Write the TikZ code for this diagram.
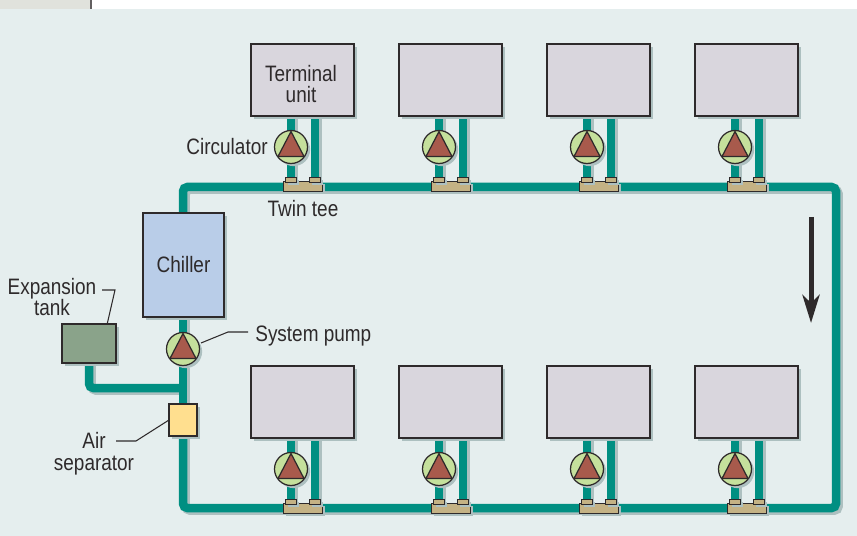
\documentclass[tikz,border=0pt]{standalone}
\usepackage{fontspec}
\setmainfont[FakeStretch=0.85]{Liberation Sans}
\usetikzlibrary{arrows.meta,backgrounds,calc,shadows}
\definecolor{panelc}{HTML}{E5EEEE}
\definecolor{tabc}{HTML}{E0E2DC}
\definecolor{shadowc}{HTML}{ADC0C0}
\definecolor{pipec}{HTML}{008F82}
\definecolor{unitc}{HTML}{D9D6DD}
\definecolor{chillerc}{HTML}{B9CDE8}
\definecolor{tankc}{HTML}{8AA38A}
\definecolor{airc}{HTML}{FFDF8F}
\definecolor{pumpc}{HTML}{C5E09C}
\definecolor{triac}{HTML}{A85A4C}
\definecolor{teec}{HTML}{C4B284}
\definecolor{inkc}{HTML}{2E2A2B}
\tikzset{
  box/.style={draw=inkc,line width=0.7pt,inner sep=0pt,outer sep=0pt,rectangle,
    drop shadow={shadow xshift=1.5pt,shadow yshift=-1.5pt,fill=shadowc,opacity=1}},
  unit/.style={box,fill=unitc,minimum width=103*0.02cm,minimum height=72*0.02cm},
  pump/.style={box,circle,fill=pumpc,minimum size=33*0.02cm},
  pumptri/.style={draw=inkc,line width=0.7pt,fill=triac,line join=round},
  tee/.style={box,fill=teec,minimum width=39*0.02cm,minimum height=9.5*0.02cm},
  teecap/.style={box,line width=0.5pt,fill=teec,minimum width=11.5*0.02cm,minimum height=5*0.02cm},
  pipe/.style={line width=8.5*0.02cm,rounded corners=2.5pt},
  leader/.style={draw=inkc,line width=0.6pt},
  lbl/.style={inner sep=0pt,text=inkc,align=center,font=\fontsize{12.7}{12.3}\selectfont},
}
\begin{document}
\begin{tikzpicture}[x=0.02cm,y=-0.02cm]
    \useasboundingbox (0,0) rectangle (857,536);

    % Chiller side
    \node[box,fill=chillerc,minimum width=81*0.02cm,minimum height=104*0.02cm] (chiller) at (183.5,265) {};
    \node[box,fill=tankc,minimum width=54*0.02cm,minimum height=39*0.02cm] (tank) at (89,343.5) {};
    \node[box,fill=airc,minimum width=28*0.02cm,minimum height=32*0.02cm] (airsep) at (183,420) {};
    \node[pump] (syspump) at (183,349) {};
    \draw[pumptri] ($(syspump)+(0,-15.5)$) -- ($(syspump)+(13,9.5)$) -- ($(syspump)+(-13,9.5)$) -- cycle;

    % Terminal units, circulators and twin tees
    \foreach \r/\y in {t/80,b/402} {
        \foreach \i/\x in {1/302.5,2/450.5,3/598.5,4/746.5} {
            \node[unit] (unit\r\i) at (\x,\y) {};
            \node[pump] (pump\r\i) at (\x-11.5,\y+67) {};
            \draw[pumptri] ($(pump\r\i)+(0,-15.5)$) -- ($(pump\r\i)+(13,9.5)$) -- ($(pump\r\i)+(-13,9.5)$) -- cycle;
            \node[tee] (tee\r\i) at (\x+0.5,\y+106.5) {};
            \node[teecap] (capa\r\i) at (\x-11.5,\y+99.5) {};
            \node[teecap] (capb\r\i) at (\x+12.5,\y+99.5) {};
        }
    }

    % Piping, the shadow pass first
    \coordinate (cornerne) at (836,187);
    \coordinate (cornerse) at (836,508);
    \coordinate (cornersw) at (183,508);
    \coordinate (cornernw) at (183,187);
    \coordinate (junction) at (183,388);
    \begin{scope}[on background layer]
        \fill[white] (0,0) rectangle (857,536);
        \fill[panelc] (0,9) rectangle (857,536);
        \fill[tabc] (0,0) rectangle (90,9);
        \fill[inkc!75] (90,0) rectangle (92,9);
        \foreach \c/\d in {shadowc/1.5pt,pipec/0pt} {
            \begin{scope}[transform canvas={xshift=\d,yshift=-\d},draw=\c]
                \draw[pipe] (chiller.north -| cornernw) -- (cornernw) -- (cornerne) -- (cornerse) -- (cornersw) -- (airsep.south);
                \draw[pipe] (airsep.north) -- (syspump.south);
                \draw[pipe] (syspump.north) -- (chiller.south -| syspump);
                \draw[pipe] (tank.south) |- (junction);
                \foreach \r in {t,b} {
                    \foreach \i in {1,2,3,4} {
                        \draw[pipe] (unit\r\i.south -| pump\r\i) -- (capa\r\i.north);
                        \draw[pipe] (unit\r\i.south -| capb\r\i) -- (capb\r\i.north);
                    }
                }
            \end{scope}
        }
    \end{scope}

    % Labels
    \node[lbl] (termlbl) at (301,84) {Terminal\\unit};
    \node[lbl,anchor=east] (circlbl) at (268,147) {Circulator};
    \node[lbl] (teelbl) at (303,209) {Twin tee};
    \node[lbl] (chilllbl) at (183.5,265) {Chiller};
    \node[lbl] (explbl) at (52,297) {Expansion\\tank};
    \node[lbl,anchor=west] (syslbl) at (255,336) {System pump};
    \node[lbl] (airlbl) at (94,454) {Air\\separator};

    % Leaders
    \coordinate (expstart) at (102,290);
    \coordinate (expbend) at (115,290);
    \coordinate (sysbend) at (228,332);
    \coordinate (sysend) at (248,332);
    \coordinate (airstart) at (116,441);
    \coordinate (airbend) at (136,441);
    \draw[leader] (expstart) -- (expbend) -- (tank.47);
    \draw[leader] (sysend) -- (sysbend) -- ($(syspump)+(18,-6)$);
    \draw[leader] (airstart) -- (airbend) -- (airsep.west);

    % Flow direction
    \coordinate (flowtop) at (811,217);
    \coordinate (flowtip) at (811,323);
    \draw[draw=inkc,line width=5*0.02cm,-{Stealth[length=28*0.02cm,width=17*0.02cm,inset=8*0.02cm]}] (flowtop) -- (flowtip);
\end{tikzpicture}
\end{document}
